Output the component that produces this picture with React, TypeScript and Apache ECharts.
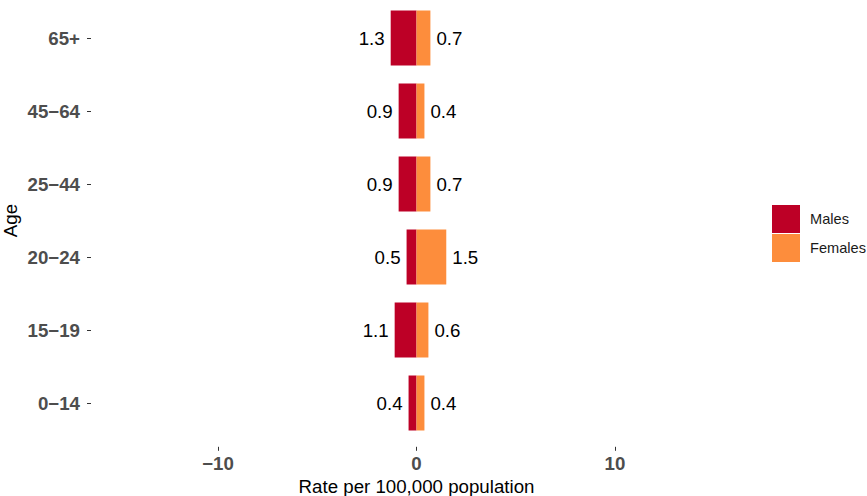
import React, { useEffect, useRef } from "react";
import * as echarts from "echarts";

const ageGroups = ["0−14", "15−19", "20−24", "25−44", "45−64", "65+"];
const males = [0.4, 1.1, 0.5, 0.9, 0.9, 1.3];
const females = [0.4, 0.6, 1.5, 0.7, 0.4, 0.7];
const xTicks = [-10, 0, 10];

const FONT = "'Liberation Sans', Arial, Helvetica, sans-serif";

export default function App() {
  const ref = useRef<HTMLDivElement>(null);
  useEffect(() => {
    if (!ref.current) return;
    const chart = echarts.init(ref.current, null, { renderer: "svg" });
    const fmtAbs = (p: any) => Math.abs(p.value).toFixed(1);
    chart.setOption({
      animation: false,
      backgroundColor: "#ffffff",
      textStyle: { fontFamily: FONT },
      grid: {
        left: 91,
        width: 651,
        top: 1.5,
        height: 438,
        containLabel: false,
        outerBoundsMode: "none",
      },
      legend: {
        orient: "vertical",
        left: 772,
        top: 205,
        icon: "rect",
        itemWidth: 28,
        itemHeight: 28,
        itemGap: 1,
        padding: 0,
        textStyle: { fontFamily: FONT, fontSize: 14.6, color: "#1a1a1a", padding: [0, 0, 0, 5] },
        data: ["Males", "Females"],
      },
      xAxis: {
        type: "value",
        min: -16.4,
        max: 16.4,
        offset: 7.3,
        splitLine: { show: false },
        axisLine: { show: true, onZero: false, lineStyle: { color: "rgba(0,0,0,0)", width: 0 } },
        axisTick: {
          show: true,
          customValues: xTicks,
          length: 4,
          lineStyle: { color: "#333333", width: 1 },
        },
        axisLabel: {
          customValues: xTicks,
          margin: 7,
          fontFamily: FONT,
          fontSize: 18.7,
          fontWeight: "bold",
          color: "#4d4d4d",
          formatter: (v: number) => (v < 0 ? "−" + Math.abs(v) : String(v)),
        },
        name: "Rate per 100,000 population",
        nameLocation: "middle",
        nameMoveOverlap: false,
        nameGap: 30,
        nameTextStyle: { fontFamily: FONT, fontSize: 18.7, color: "#000000", lineHeight: 20 },
      },
      yAxis: {
        type: "category",
        data: ageGroups,
        axisLine: { show: true, onZero: false, lineStyle: { color: "rgba(0,0,0,0)", width: 0 } },
        axisTick: {
          show: true,
          alignWithLabel: true,
          length: 4,
          lineStyle: { color: "#333333", width: 1 },
        },
        axisLabel: {
          margin: 11,
          fontFamily: FONT,
          fontSize: 18.7,
          fontWeight: "bold",
          color: "#4d4d4d",
        },
        splitLine: { show: false },
        name: "Age",
        nameLocation: "middle",
        nameRotate: 90,
        nameMoveOverlap: false,
        nameGap: 71,
        nameTextStyle: { fontFamily: FONT, fontSize: 18.7, color: "#000000", lineHeight: 20 },
      },
      series: [
        {
          name: "Males",
          type: "bar",
          barWidth: 55,
          barGap: "-100%",
          itemStyle: { color: "#BD0026" },
          data: males.map((v) => -v),
          label: {
            show: true,
            position: "left",
            distance: 6,
            formatter: fmtAbs,
            fontFamily: FONT,
            fontSize: 18.7,
            color: "#000000",
          },
        },
        {
          name: "Females",
          type: "bar",
          barWidth: 55,
          barGap: "-100%",
          itemStyle: { color: "#FD8D3C" },
          data: females,
          label: {
            show: true,
            position: "right",
            distance: 6,
            formatter: fmtAbs,
            fontFamily: FONT,
            fontSize: 18.7,
            color: "#000000",
          },
        },
      ],
    });
    return () => chart.dispose();
  }, []);
  return (
    <div
      ref={ref}
      style={{ position: "fixed", left: 0, top: 0, width: 867, height: 496, background: "#fff" }}
    />
  );
}
